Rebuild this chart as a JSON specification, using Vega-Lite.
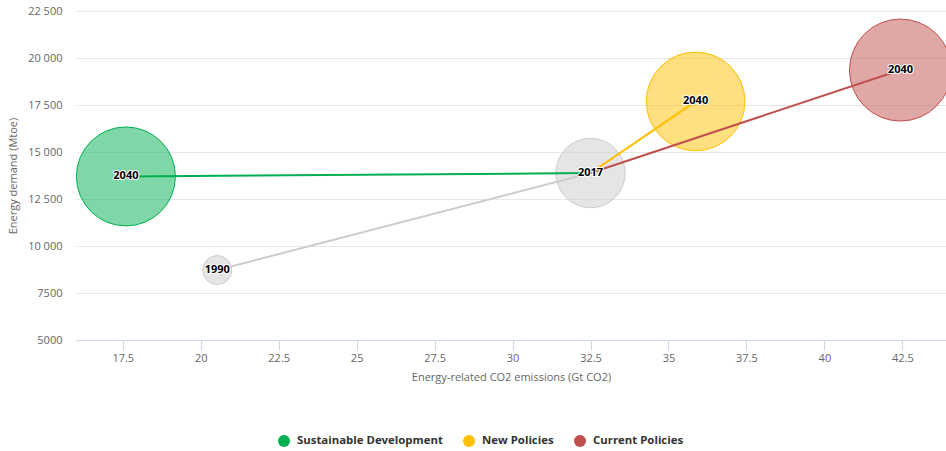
{
  "$schema": "https://vega.github.io/schema/vega-lite/v6.json",
  "autosize": "none",
  "width": 870,
  "height": 329,
  "padding": {"left": 76, "top": 11, "right": 0, "bottom": 111},
  "background": "#ffffff",
  "config": {
    "font": "Open Sans",
    "view": {"stroke": null},
    "axis": {"titleFontWeight": "normal", "titleFont": "Open Sans", "labelFont": "Open Sans"}
  },
  "datasets": {
    "points": [
      {"series": "Historical", "year": "1990", "co2": 20.53, "demand": 8720, "z": 8.1},
      {"series": "Historical", "year": "2017", "co2": 32.5, "demand": 13880, "z": 46.3},
      {"series": "Sustainable Development", "year": "2040", "co2": 17.6, "demand": 13700, "z": 94.2},
      {"series": "New Policies", "year": "2040", "co2": 35.87, "demand": 17690, "z": 93.5},
      {"series": "Current Policies", "year": "2040", "co2": 42.44, "demand": 19360, "z": 100}
    ],
    "lines": [
      {"series": "Historical", "year": 1990, "co2": 20.53, "demand": 8720},
      {"series": "Historical", "year": 2017, "co2": 32.5, "demand": 13880},
      {"series": "Sustainable Development", "year": 2017, "co2": 32.5, "demand": 13880},
      {"series": "Sustainable Development", "year": 2040, "co2": 17.6, "demand": 13700},
      {"series": "New Policies", "year": 2017, "co2": 32.5, "demand": 13880},
      {"series": "New Policies", "year": 2040, "co2": 35.87, "demand": 17690},
      {"series": "Current Policies", "year": 2017, "co2": 32.5, "demand": 13880},
      {"series": "Current Policies", "year": 2040, "co2": 42.44, "demand": 19360}
    ]
  },
  "encoding": {
    "x": {
      "field": "co2", "type": "quantitative",
      "scale": {"domain": [16, 43.9], "nice": false, "zero": false},
      "axis": {
        "title": "Energy-related CO2 emissions (Gt CO2)",
        "values": [17.5, 20, 22.5, 25, 27.5, 30, 32.5, 35, 37.5, 40, 42.5],
        "format": ".1~f",
        "grid": false,
        "domainColor": "#ccd6eb",
        "tickColor": "#ccd6eb",
        "tickSize": 10,
        "labelPadding": 2,
        "labelFontSize": 11,
        "labelColor": "#666666",
        "titleFontSize": 11,
        "titleColor": "#666666",
        "titlePadding": 8
      }
    },
    "y": {
      "field": "demand", "type": "quantitative",
      "scale": {"domain": [5000, 22500], "nice": false, "zero": false},
      "axis": {
        "title": "Energy demand (Mtoe)",
        "values": [5000, 7500, 10000, 12500, 15000, 17500, 20000, 22500],
        "labelExpr": "datum.value >= 10000 ? replace(format(datum.value, ','), ',', ' ') : format(datum.value, 'd')",
        "grid": true,
        "gridColor": "#e6e6e6",
        "domain": false,
        "ticks": false,
        "labelPadding": 14,
        "labelFontSize": 11,
        "labelColor": "#666666",
        "titleFontSize": 11,
        "titleColor": "#666666",
        "titlePadding": 9
      }
    }
  },
  "layer": [
    {
      "data": {"name": "points"},
      "mark": {"type": "circle", "fillOpacity": 0.5, "strokeWidth": 1, "strokeOpacity": 1},
      "encoding": {
        "fill": {
          "field": "series", "type": "nominal",
          "scale": {"domain": ["Sustainable Development", "New Policies", "Current Policies", "Historical"], "range": ["#00b050", "#ffc000", "#c0504d", "#cccccc"]},
          "legend": {
            "values": ["Sustainable Development", "New Policies", "Current Policies"],
            "title": null,
            "orient": "none",
            "direction": "horizontal",
            "legendX": 202,
            "legendY": 424,
            "padding": 0,
            "symbolType": "circle",
            "symbolSize": 144,
            "symbolOpacity": 1,
            "labelFontSize": 11.4,
            "labelFontWeight": "bold",
            "labelColor": "#333333",
            "labelFont": "Open Sans",
            "labelOffset": 7,
            "columnPadding": 20,
            "encode": {"symbols": {"update": {"fillOpacity": {"value": 1}, "strokeWidth": {"value": 0}}}}
          }
        },
        "stroke": {
          "field": "series", "type": "nominal",
          "scale": {"domain": ["Sustainable Development", "New Policies", "Current Policies", "Historical"], "range": ["#00b050", "#ffc000", "#c0504d", "#cccccc"]},
          "legend": null
        },
        "size": {
          "field": "z", "type": "quantitative",
          "scale": {"domain": [0, 100], "range": [0, 10404]},
          "legend": null
        }
      }
    },
    {
      "data": {"name": "lines"},
      "mark": {"type": "line", "strokeWidth": 2},
      "encoding": {
        "stroke": {"field": "series", "type": "nominal", "legend": null},
        "detail": {"field": "series"},
        "order": {"field": "year", "type": "quantitative"}
      }
    },
    {
      "data": {"name": "points"},
      "mark": {"type": "text", "fontSize": 11, "fontWeight": "bold", "font": "Open Sans", "stroke": "#ffffff", "strokeWidth": 2, "strokeJoin": "round", "fill": "#ffffff", "align": "center", "baseline": "middle"},
      "encoding": {"text": {"field": "year"}}
    },
    {
      "data": {"name": "points"},
      "mark": {"type": "text", "fontSize": 11, "fontWeight": "bold", "font": "Open Sans", "fill": "#000000", "align": "center", "baseline": "middle"},
      "encoding": {"text": {"field": "year"}}
    }
  ]
}
